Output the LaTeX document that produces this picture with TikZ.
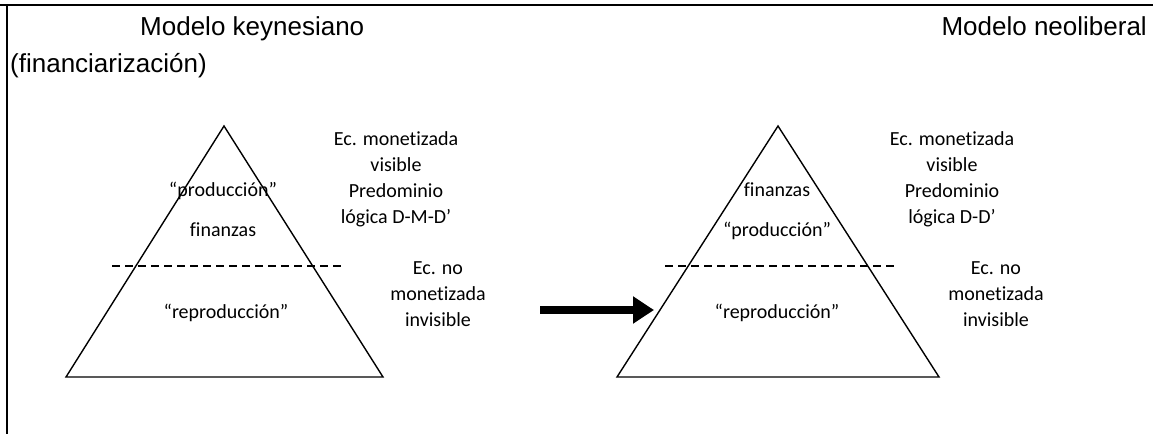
\documentclass[tikz,border=0pt]{standalone}
\usepackage{fontspec}
\setmainfont[Ligatures=NoCommon]{Carlito}
\newfontfamily\titlefont{Liberation Sans}
\usetikzlibrary{arrows.meta}
\begin{document}
\begin{tikzpicture}[x=1pt,y=-1pt,
  titletxt/.style={font=\titlefont\fontsize{26}{30}\selectfont, inner sep=0pt},
  bodytxt/.style={font=\fontsize{20}{26}\selectfont, inner sep=0pt, align=center},
  tri/.style={draw=black, line width=1.4pt, line join=miter},
  divline/.style={draw=black, line width=1.3pt, dash pattern=on 8pt off 5pt},
  frameline/.style={draw=black, line width=2pt},
  bigarrow/.style={draw=black, line width=8pt, -{Triangle[length=21pt,width=26pt]}}]
\useasboundingbox (0,0) rectangle (1153,434);
\fill[white] (0,0) rectangle (1153,434);
% frame
\draw[frameline] (0,5) -- (1153,5);
\draw[frameline] (7,5) -- (7,434);
% titles
\node[titletxt, anchor=base west] (t1) at (140,35) {Modelo keynesiano};
\node[titletxt, anchor=base west] (t2) at (10,72) {(financiarización)};
\node[titletxt, anchor=base east] (t3) at (1147,35) {Modelo neoliberal};
% left pyramid
\draw[tri] (224,126) -- (383,377) -- (66,377) -- cycle;
\draw[divline] (112,266) -- (342,266);
\node[bodytxt, anchor=base] (lprod) at (223,196) {“producción”};
\node[bodytxt, anchor=base] (lfin) at (223,236) {finanzas};
\node[bodytxt, anchor=base] (lrep) at (226,318) {“reproducción”};
\node[bodytxt, anchor=base] (lmon) at (396,223) {Ec. monetizada\\visible\\Predominio\\lógica D-M-D’};
\node[bodytxt, anchor=base] (lnomon) at (438,326) {Ec. no\\monetizada\\invisible};
% arrow
\coordinate (a1) at (540,310);
\coordinate (a2) at (654,310);
\draw[bigarrow] (a1) -- (a2);
% right pyramid
\draw[tri] (778,126) -- (939,377) -- (617,377) -- cycle;
\draw[divline] (665,266) -- (897,266);
\node[bodytxt, anchor=base] (rfin) at (777,196) {finanzas};
\node[bodytxt, anchor=base] (rprod) at (777,236) {“producción”};
\node[bodytxt, anchor=base] (rrep) at (777,318) {“reproducción”};
\node[bodytxt, anchor=base] (rmon) at (952,223) {Ec. monetizada\\visible\\Predominio\\lógica D-D’};
\node[bodytxt, anchor=base] (rnomon) at (996,326) {Ec. no\\monetizada\\invisible};
\end{tikzpicture}
\end{document}
